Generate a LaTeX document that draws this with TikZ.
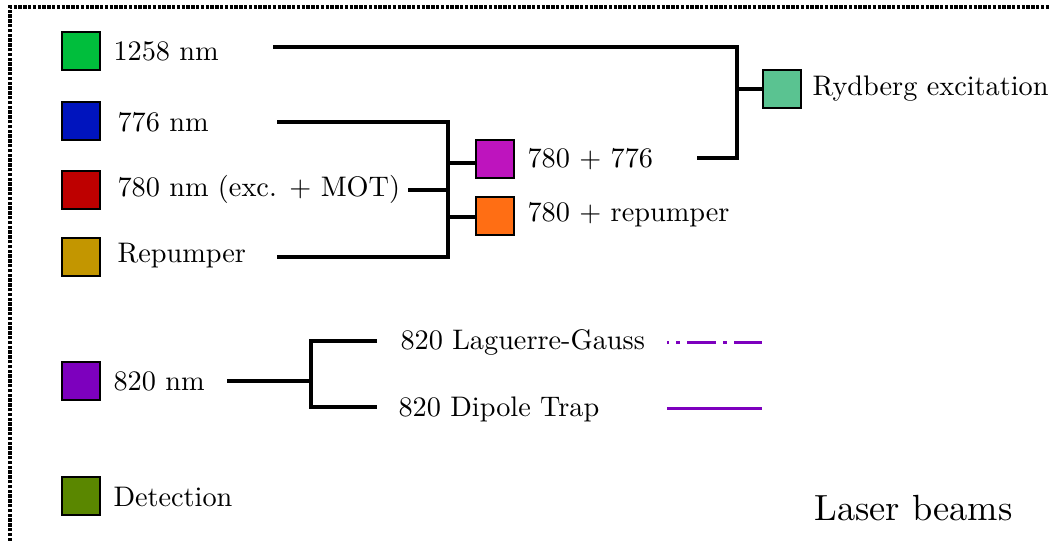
\documentclass[tikz,border=0pt]{standalone}
\usepackage{fontspec}
\setmainfont{lmroman10-regular.otf}
\usetikzlibrary{positioning}

\tikzset{every picture/.style={line width=0.75pt}}
\tikzset{
  colbox/.style={draw, line width=1.5pt, minimum size=28.5pt, inner sep=0pt},
  lbl/.style={anchor=west, inner sep=0.75pt},
  beam/.style={line width=2.4pt},
  frame/.style={line width=3pt, dash pattern=on 2.6pt off 1pt},
  pbeam/.style={line width=2.25pt, color={rgb, 255:red, 125; green, 0; blue, 190 }}
}

\begin{document}
\begin{tikzpicture}[x=0.75pt,y=0.75pt,yscale=-1,xscale=1,font=\fontsize{21.2}{25.4}\selectfont]
\useasboundingbox (0,0) rectangle (1050,541);

%Shape: Frame
\draw [frame] (9.5,541) -- (9.5,7.5) -- (1050,7.5) ;

%Shape: Square
\node [colbox, fill={rgb, 255:red, 0; green, 190; blue, 60 }] (b1258) at (81,51) {};
\node [colbox, fill={rgb, 255:red, 0; green, 20; blue, 190 }] (b776) at (81,121) {};
\node [colbox, fill={rgb, 255:red, 190; green, 0; blue, 0 }] (b780) at (81,190) {};
\node [colbox, fill={rgb, 255:red, 195; green, 150; blue, 0 }] (brep) at (81,257) {};
\node [colbox, fill={rgb, 255:red, 125; green, 0; blue, 190 }] (b820) at (81,381) {};
\node [colbox, fill={rgb, 255:red, 90; green, 135; blue, 0 }] (bdet) at (81,496) {};
\node [colbox, fill={rgb, 255:red, 190; green, 20; blue, 190 }] (bmix) at (495,159) {};
\node [colbox, fill={rgb, 255:red, 255; green, 110; blue, 20 }] (bmrep) at (495,216) {};
\node [colbox, fill={rgb, 255:red, 90; green, 195; blue, 145 }] (bryd) at (782,89) {};

% Text Node
\node [lbl] (t1258) at (112,51) {1258 nm};
% Text Node
\node [lbl] (t776) at (116,122) {776 nm};
% Text Node
\node [lbl] (t780) at (116,189) {780 nm (exc. + MOT)};
% Text Node
\node [lbl] (trep) at (116,256) {Repumper};
% Text Node
\node [lbl] (t820) at (112,381) {820 nm};
% Text Node
\node [lbl] (tdet) at (112,497) {Detection};
% Text Node
\node [lbl] (tmix) at (526,159) {780 + 776};
% Text Node
\node [lbl] (tmrep) at (526,215) {780 + repumper};
% Text Node
\node [lbl] (tryd) at (811,89) {Rydberg excitation};
% Text Node
\node [lbl] (tlg) at (399,342) {820 Laguerre-Gauss};
% Text Node
\node [lbl] (tdt) at (397,409) {820 Dipole Trap};
% Text Node
\node [lbl, font=\fontsize{27.3}{32}\selectfont] (tlaser) at (813,508) {Laser beams};

% Beam ends and junctions
\coordinate (s1258) at (273,47) ;
\coordinate (s776) at (277,122) ;
\coordinate (s780) at (408,190) ;
\coordinate (srep) at (277,257) ;
\coordinate (jmot) at (448,190) ;
\coordinate (jmix) at (448,163) ;
\coordinate (jmrep) at (448,217) ;
\coordinate (smix) at (697,158) ;
\coordinate (jryd) at (737,89) ;
\coordinate (s820) at (227,381) ;
\coordinate (j820) at (311,381) ;
\coordinate (elg) at (377,341) ;
\coordinate (edt) at (377,407) ;

%Straight Lines
\draw [beam] (s1258) -| (jryd) |- (smix) ;
\draw [beam] (jryd) -- (bryd.west) ;
\draw [beam] (s776) -| (jmot) |- (srep) ;
\draw [beam] (s780) -- (jmot) ;
\draw [beam] (jmix) -- (jmix -| bmix.west) ;
\draw [beam] (jmrep) -- (jmrep -| bmrep.west) ;
\draw [beam] (s820) -- (j820) ;
\draw [beam] (elg) -| (j820) |- (edt) ;

% Legend lines
\coordinate (lga) at (667,343) ;
\coordinate (lgb) at (762,343) ;
\coordinate (dta) at (667,409) ;
\coordinate (dtb) at (762,409) ;
\draw [pbeam, dash pattern=on 21.75pt off 5.25pt on 3pt off 5.25pt, dash phase=20.25pt] (lga) -- (lgb) ;
\draw [pbeam] (dta) -- (dtb) ;

\end{tikzpicture}
\end{document}
